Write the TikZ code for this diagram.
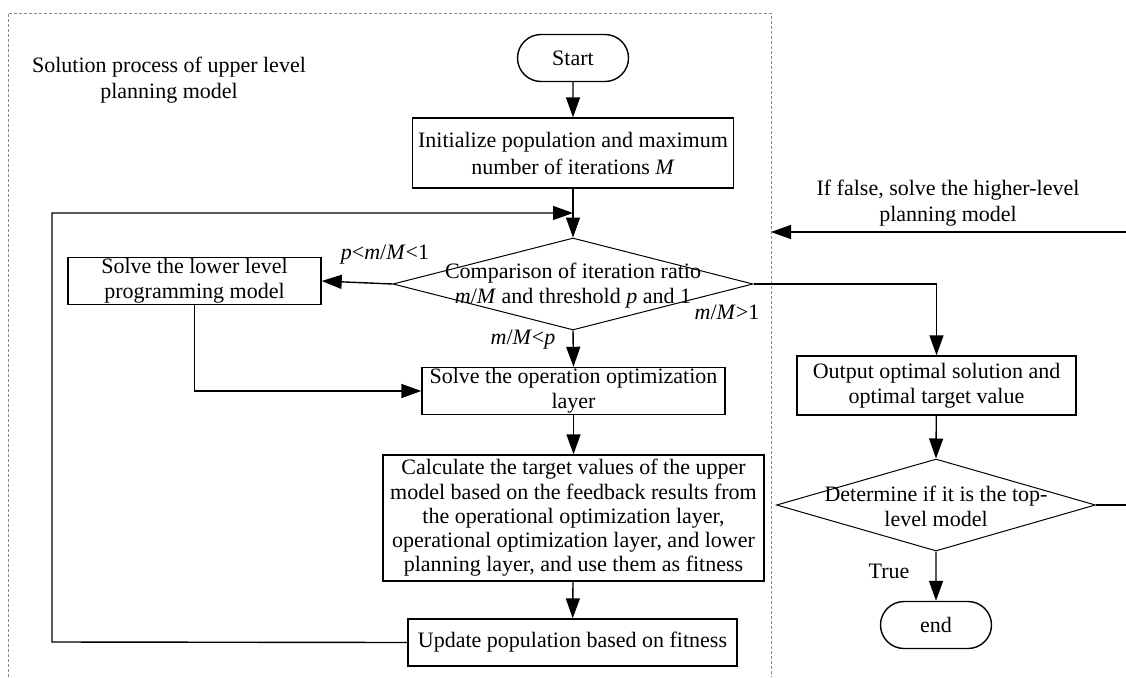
\documentclass[tikz,border=0pt]{standalone}
\usepackage{fontspec}
\setmainfont{Liberation Serif}
\usepackage{tikz}
\usetikzlibrary{arrows.meta,positioning,shapes.misc,shapes.geometric}
\definecolor{framec}{HTML}{8A8A8A}
\tikzset{
  x=1pt,y=-1pt,
  >={Triangle[length=20pt,width=14pt]},
  box/.style={draw,line width=1.4pt,fill=white,align=center,inner sep=1pt,font=\fontsize{22}{25}\selectfont},
  term/.style={box,rounded rectangle,minimum width=113pt,minimum height=47pt},
  dec/.style={draw,line width=1pt,diamond,inner sep=0pt},
  dtxt/.style={align=center,inner sep=0pt,font=\fontsize{22}{25}\selectfont},
  lbl/.style={font=\fontsize{22}{26}\selectfont,inner sep=1pt,align=center},
  ptr/.style={->,line width=1.4pt},
  frame/.style={draw=framec,line width=0.8pt,dash pattern=on 3pt off 2pt},
}
\begin{document}
\begin{tikzpicture}
  \path[use as bounding box,clip] (0,0) rectangle (1126,677);
  % dashed frame of the upper level
  \draw[frame] (8,677) |- (771,13) -- (771,677);
  \node[lbl] (ttl) at (169,80) {Solution process of upper level\\planning model};
  % left column
  \node[term] (start) at (573,58) {Start};
  \node[box,minimum width=321pt,minimum height=70pt,font=\fontsize{22}{27}\selectfont] (init) at (573,153) {Initialize population and maximum\\number of iterations \textit{M}};
  \node[dec,minimum width=360pt,minimum height=92pt] (cmp) at (573,284) {};
  \node[dtxt] (cmpt) at (573,286) {Comparison of iteration ratio\\\textit{m}/\textit{M} and threshold \textit{p} and 1};
  \node[box,minimum width=253pt,minimum height=46pt] (low) at (194.5,281) {Solve the lower level\\programming model};
  \node[box,minimum width=303pt,minimum height=46pt] (op) at (573.5,391) {Solve the operation optimization\\layer};
  \node[box,minimum width=381pt,minimum height=126pt,font=\fontsize{22}{24.2}\selectfont] (calc) at (573.5,518) {Calculate the target values of the upper\\model based on the feedback results from\\the operational optimization layer,\\operational optimization layer, and lower\\planning layer, and use them as fitness};
  \node[box,minimum width=329pt,minimum height=47pt] (upd) at (572.5,642.5) {Update population based on fitness};
  % right column
  \node[box,minimum width=279pt,minimum height=59pt] (out) at (936.5,385.5) {Output optimal solution and\\optimal target value};
  \node[dec,minimum width=319pt,minimum height=92pt] (top) at (936,505) {};
  \node[dtxt] (topt) at (936,506) {Determine if it is the top-\\level model};
  \node[term] (end) at (936,625) {end};
  \coordinate (j1) at (573,213);
  \coordinate (fr) at (771,232);
  \draw[ptr] (start) -- (init);
  \draw[ptr] (init) -- (cmp.north);
  \draw[ptr] (upd.west) -- (52,642) |- (j1);
  \draw[ptr] (cmp.west) -- (low.east);
  \draw[ptr] (cmp.south) -- (op.north);
  \draw[ptr] (low.south) |- (op.west);
  \draw[ptr] (op) -- (calc);
  \draw[ptr] (calc) -- (upd);
  \draw[ptr] (cmp.east) -| (out.north);
  \draw[ptr] (out) -- (top.north);
  \draw[ptr] (top.south) -- (end);
  \draw[ptr] (top.east) -- (1150,505) |- (fr);
  % branch labels
  \node[lbl] (l1) at (385,255) {\textit{p}<\textit{m}/\textit{M}<1};
  \node[lbl] (l2) at (523,340) {\textit{m}/\textit{M}<\textit{p}};
  \node[lbl] (l3) at (727,312) {\textit{m}/\textit{M}>1};
  \node[lbl] (l4) at (889,571) {True};
  \node[lbl] (l5) at (948,203) {If false, solve the higher-level\\planning model};
\end{tikzpicture}
\end{document}
